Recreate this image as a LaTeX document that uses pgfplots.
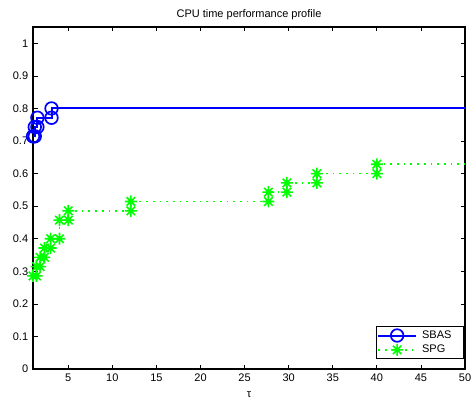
\documentclass[border=0pt]{standalone}
\usepackage{fontspec}
\setmainfont{Liberation Sans}
\usepackage{pgfplots}
\pgfplotsset{compat=1.18}

% matlab-style '*' marker: plus and cross together
\pgfdeclareplotmark{mstar}{%
  \pgfpathmoveto{\pgfqpoint{-\pgfplotmarksize}{0pt}}%
  \pgfpathlineto{\pgfqpoint{\pgfplotmarksize}{0pt}}%
  \pgfpathmoveto{\pgfqpoint{0pt}{-\pgfplotmarksize}}%
  \pgfpathlineto{\pgfqpoint{0pt}{\pgfplotmarksize}}%
  \pgfpathmoveto{\pgfqpoint{-0.7071\pgfplotmarksize}{-0.7071\pgfplotmarksize}}%
  \pgfpathlineto{\pgfqpoint{0.7071\pgfplotmarksize}{0.7071\pgfplotmarksize}}%
  \pgfpathmoveto{\pgfqpoint{-0.7071\pgfplotmarksize}{0.7071\pgfplotmarksize}}%
  \pgfpathlineto{\pgfqpoint{0.7071\pgfplotmarksize}{-0.7071\pgfplotmarksize}}%
  \pgfusepathqstroke}

\definecolor{mblue}{rgb}{0,0,1}
\definecolor{mgreen}{rgb}{0,1,0}

\begin{document}
\fontsize{11}{13}\selectfont
\begin{tikzpicture}
\begin{axis}[
  scale only axis,
  width=432pt, height=342pt,
  xmin=1, xmax=50, ymin=0, ymax=1.05,
  xtick={5,10,...,50},
  ytick={0,0.1,...,1},
  yticklabels={0,0.1,0.2,0.3,0.4,0.5,0.6,0.7,0.8,0.9,1},
  /pgf/number format/assume math mode=true,
  tick align=inside,
  major tick length=4.5pt,
  tick style={black, line width=0.7pt},
  axis line style={black, line width=1.4pt},
  xticklabel style={yshift=-1pt},
  yticklabel style={xshift=-1pt},
  title={CPU time performance profile},
  title style={yshift=-3pt},
  xlabel={τ},
  xlabel style={yshift=-2pt},
  legend style={at={(1,0)}, anchor=south east, xshift=-1pt, yshift=10pt,
    draw=black, line width=1pt, cells={anchor=west}, row sep=1pt,
    column sep=1pt, inner xsep=1pt, inner ysep=2pt,
    nodes={inner xsep=4pt, inner ysep=2pt}},
  legend image code/.code={%
    \draw[#1, mark=none] (0pt,0pt) -- (38pt,0pt);
    \draw[#1, only marks] plot coordinates {(19pt,0pt)};},
]
\addplot[mblue, line width=2pt, mark=o, mark size=6.3pt,
  mark options={solid, line width=1.7pt}] coordinates {
  (1,0.7143) (1.2,0.7143) (1.2,0.7429) (1.5,0.7429) (1.5,0.7714)
  (3.1,0.7714) (3.1,0.8000) (60,0.8000)
};
\addlegendentry{SBAS\rule{7pt}{0pt}}
\addplot[mgreen, line width=1.7pt, dash pattern=on 1.7pt off 5pt,
  mark=mstar, mark size=6pt, mark options={solid, line width=1.6pt}] coordinates {
  (1,0.2857) (1.4,0.2857) (1.4,0.3143) (1.8,0.3143) (1.8,0.3429)
  (2.3,0.3429) (2.3,0.3714) (3.0,0.3714) (3.0,0.4000) (4.0,0.4000)
  (4.0,0.4571) (5.0,0.4571) (5.0,0.4857) (12.1,0.4857) (12.1,0.5143)
  (27.7,0.5143) (27.7,0.5429) (29.8,0.5429) (29.8,0.5714) (33.2,0.5714)
  (33.2,0.6000) (40.0,0.6000) (40.0,0.6286) (60,0.6286)
};
\addlegendentry{SPG}
\end{axis}
\pgfresetboundingbox
\path (current axis.south west) ++(-33pt,-35pt) coordinate (bbA);
\path (current axis.north east) ++(9pt,27pt) coordinate (bbB);
\useasboundingbox (bbA) rectangle (bbB);
\end{tikzpicture}
\end{document}
